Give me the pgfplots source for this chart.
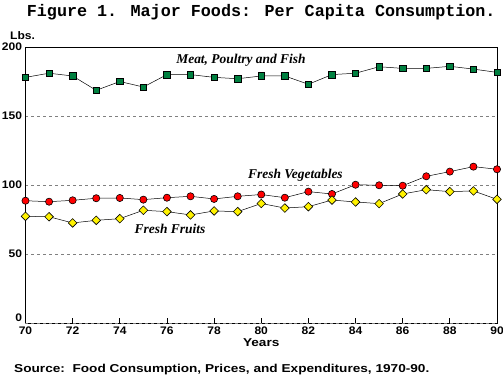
\documentclass[border=0pt]{standalone}
\usepackage{pgfplots}
\pgfplotsset{compat=1.18}
\usepackage{pgfplotstable}
\usepackage{fontspec}
\setmainfont{Liberation Sans}
\newfontfamily\widefont[FakeStretch=1.19]{Liberation Sans}
\newfontfamily\tickfont[FakeStretch=1.1]{Liberation Sans}
\newfontfamily\labfont{Liberation Serif}
\newfontfamily\titlefont{Liberation Mono}
\definecolor{mgreen}{RGB}{0,128,64}
\pgfplotstableread{
year meat
70 178
71 181
72 179
73 168.6
74 175
75 171
76 180
77 180
78 178
79 177
80 179
81 179
82 173
83 180
84 181
85 185.7
86 184.5
87 184.5
88 186
89 184
90 181.6
}\meat
\pgfplotstableread{
year veg
70 88.6
71 87.9
72 88.9
73 90.4
74 90.6
75 89.4
76 90.8
77 91.8
78 89.9
79 91.8
80 93.1
81 90.8
82 95.2
83 93.5
84 100.2
85 99.8
86 99.5
87 106.3
88 109.7
89 113.3
90 111.4
}\veg
\pgfplotstableread{
year fruit
70 77.3
71 77.0
72 72.5
73 74.4
74 75.6
75 81.7
76 80.7
77 78.3
78 81.2
79 80.7
80 86.6
81 83.3
82 84.3
83 89.1
84 87.7
85 86.5
86 93.5
87 96.6
88 95.2
89 95.7
90 89.6
}\fruit
\begin{document}
\begin{tikzpicture}
\begin{axis}[
  scale only axis,
  width=471.5bp, height=276bp,
  xmin=70, xmax=90, ymin=0, ymax=200,
  xtick={70,72,...,90},
  ytick={50,100,150,200},
  extra y ticks={0},
  extra y tick style={yticklabel style={yshift=5bp}, ytick style={draw=none}},
  xtick pos=bottom,
  tick align=inside,
  major tick length=5bp,
  ytick style={draw=none},
  ymajorgrids,
  grid style={gray, dashed, line width=0.6pt},
  axis line style={black, line width=0.8pt},
  tick style={black, line width=0.8pt},
  ticklabel style={font=\tickfont\bfseries\fontsize{11}{11}\selectfont},
  /pgf/number format/assume math mode=true,
  clip=false,
]
\addplot[black, line width=0.5pt, mark=square*, mark size=3.2bp,
  mark options={fill=mgreen, draw=black, line width=0.6pt}] table[x=year,y=meat]{\meat};
\addplot[black, line width=0.5pt, mark=*, mark size=3.6bp,
  mark options={fill=red, draw=black, line width=0.6pt}] table[x=year,y=veg]{\veg};
\addplot[black, line width=0.5pt, mark=square*, mark size=3.05bp,
  mark options={fill=yellow, draw=black, line width=0.6pt, rotate=45}] table[x=year,y=fruit]{\fruit};
\node[font=\labfont\bfseries\itshape\fontsize{13.5}{14}\selectfont] at (axis cs:79.14,190.6) {Meat, Poultry and Fish};
\node[font=\labfont\bfseries\itshape\fontsize{13.5}{14}\selectfont] at (axis cs:81.45,107.2) {Fresh Vegetables};
\node[font=\labfont\bfseries\itshape\fontsize{13.5}{14}\selectfont] at (axis cs:76.13,67.9) {Fresh Fruits};
\node[anchor=west, inner sep=0pt, font=\tickfont\bfseries\fontsize{11}{11}\selectfont] at (rel axis cs:-0.033,1.04) {Lbs.};
\node[inner sep=0pt, font=\widefont\bfseries\fontsize{11.5}{11.5}\selectfont] at (rel axis cs:0.5,-0.0725) {Years};
\node[anchor=west, inner sep=0pt, font=\widefont\bfseries\fontsize{11.5}{11.5}\selectfont] at (rel axis cs:-0.0244,-0.170) {Source:\ \ Food Consumption, Prices, and Expenditures, 1970-90.};
\node[inner sep=0pt, font=\titlefont\bfseries\fontsize{16.8}{17}\selectfont] at (rel axis cs:0.5,1.127) {Figure 1. Major Foods: Per Capita Consumption.};
\end{axis}
\pgfresetboundingbox
\path (current axis.south west) ++(-25.5bp,-56bp) coordinate (bl);
\path (current axis.north east) ++(6bp,47bp) coordinate (tr);
\path (bl) rectangle (tr);
\end{tikzpicture}
\end{document}
